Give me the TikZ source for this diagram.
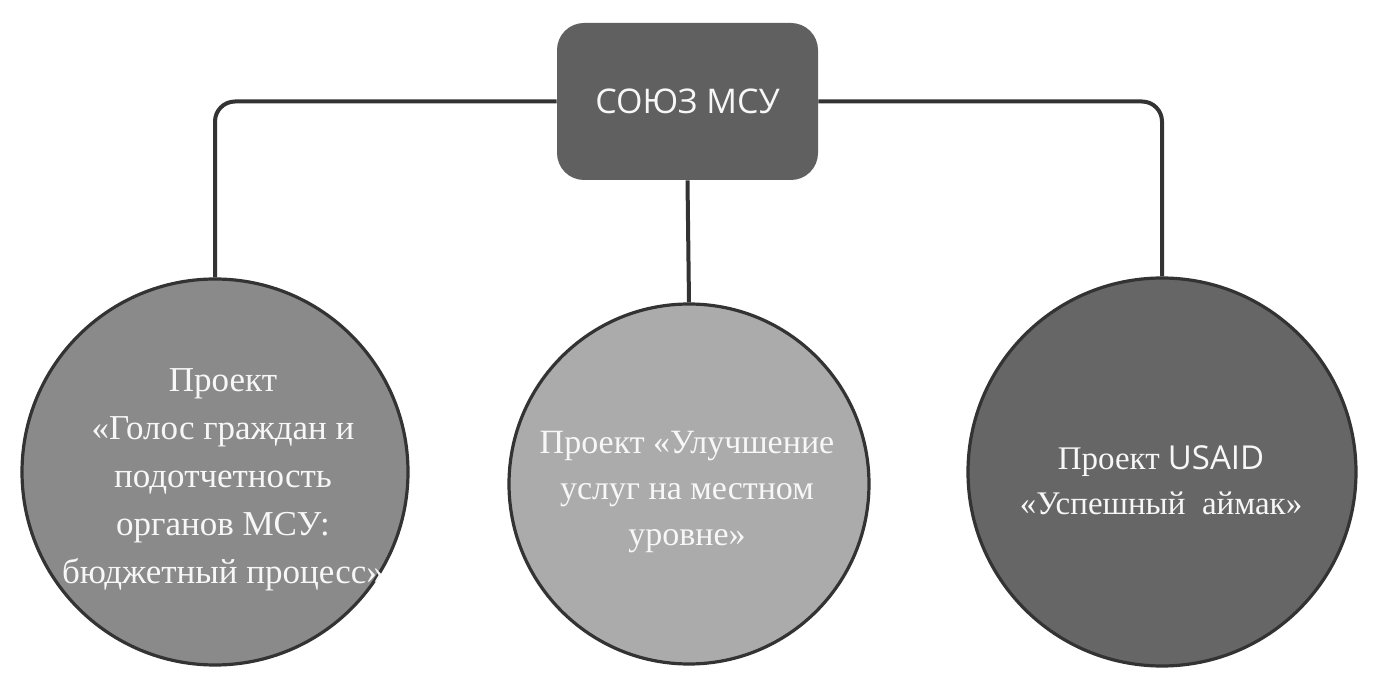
\documentclass[tikz,border=0pt]{standalone}
\usepackage{fontspec}
\setmainfont{Liberation Serif}
\newfontfamily\osans{Open Sans}
\definecolor{boxfill}{HTML}{606060}
\definecolor{leftfill}{HTML}{8A8A8A}
\definecolor{midfill}{HTML}{ABABAB}
\definecolor{rightfill}{HTML}{666666}
\definecolor{edge}{HTML}{333333}
\definecolor{txt}{HTML}{F7F7F7}
\begin{document}
\begin{tikzpicture}[x=0.5pt,y=-0.5pt]
\tikzset{
  topbox/.style={fill=boxfill, rounded corners=13.5pt,
    minimum width=130.5pt, minimum height=78.5pt, inner sep=0pt, text=txt,
    font=\osans\fontsize{17}{20}\selectfont},
  proj/.style={circle, draw=edge, line width=1.6pt, inner sep=0pt},
  projtext/.style={text=txt, align=center, inner sep=0pt},
  conn/.style={draw=edge, line width=2pt, rounded corners=10pt}
}
\useasboundingbox (0,0) rectangle (1378,684);
\fill[white] (0,0) rectangle (1378,684);
\node[topbox] (box) at (687.5,101.5) {СОЮЗ МСУ};
\node[proj, fill=leftfill, minimum size=193pt] (c1) at (215,472) {};
\node[proj, fill=midfill, minimum size=180pt] (c2) at (689,484) {};
\node[proj, fill=rightfill, minimum size=194pt] (c3) at (1162,472) {};
\draw[conn] (box.west) -| (c1.north);
\draw[conn] (box.east) -| (c3.north);
\draw[conn] (box.south) -- (c2.north);
\node[projtext, font=\fontsize{17.5}{24}\selectfont] (t1) at (223,480)
  {Проект\\«Голос граждан и\\подотчетность\\органов МСУ:\\бюджетный процесс»};
\node[projtext, font=\fontsize{17}{23}\selectfont] (t2) at (687,492)
  {Проект «Улучшение\\услуг на местном\\уровне»};
\node[projtext, font=\fontsize{16.5}{22.5}\selectfont] (t3) at (1161,480)
  {Проект {\osans USAID}\\«Успешный\ \ аймак»};
\end{tikzpicture}
\end{document}
